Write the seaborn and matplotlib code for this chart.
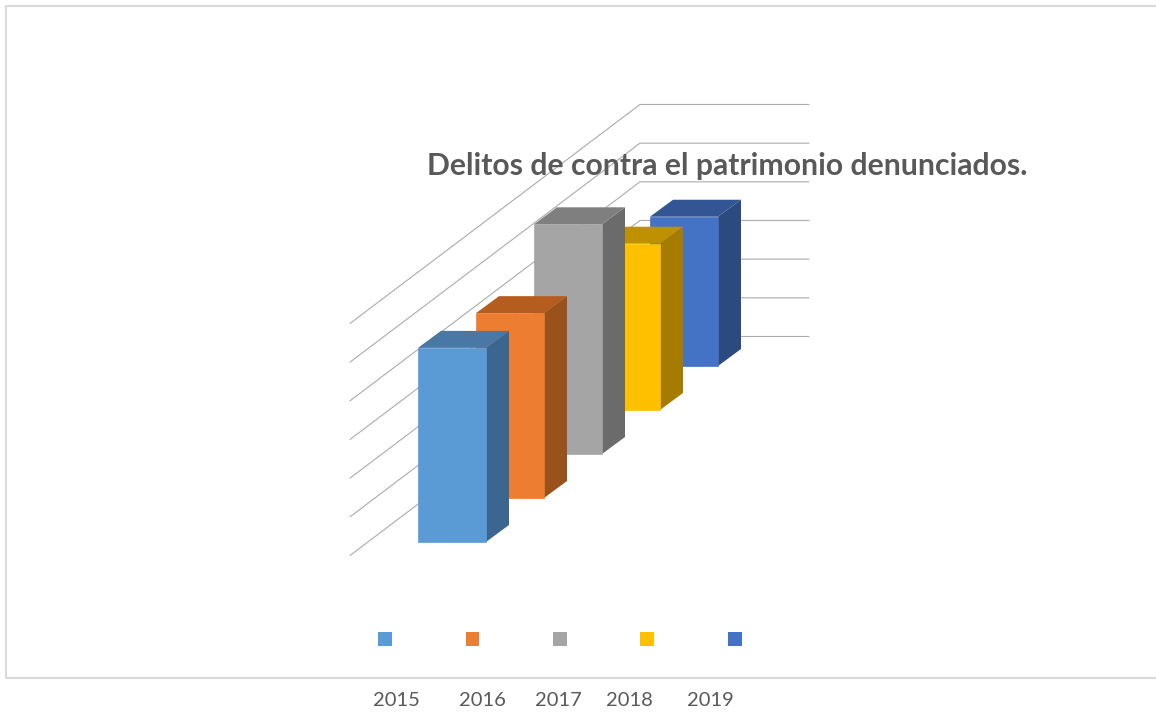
import numpy as np
import pandas as pd
import seaborn as sns
import matplotlib.pyplot as plt

# datos
anios = ['2015', '2016', '2017', '2018', '2019']
valores = [25100, 23900, 29700, 21500, 19300]
niveles = [0, 5000, 10000, 15000, 20000, 25000, 30000]
titulo = 'Delitos de contra el patrimonio denunciados.'

col_frente = ['#5B9BD5', '#ED7D31', '#A5A5A5', '#FFC000', '#4472C4']
col_lado = ['#3A6690', '#9A521D', '#6B6B6B', '#A67C00', '#2A4A80']
col_tapa = ['#4A78A6', '#B55D1F', '#7F7F7F', '#BF9000', '#335593']

# posicion de etiquetas y leyenda en pixeles
x_leyenda = [385, 472.5, 560, 647, 735]
x_etiquetas = [396.5, 482.6, 558, 629, 710]

# escala: pixeles de la imagen en x, valores en y
escala = 38.67 / 5000
base_px = 542
x0 = 418
ancho = 68
paso_x = 58
paso_y = 44
prof_x = 23
prof_y = 17


def py(p):
    return (base_px - p) / escala


sns.set_theme(style='white')
plt.rcParams['font.family'] = ['Lato', 'DejaVu Sans']

fig, ax = plt.subplots(figsize=(11.56, 7.13), dpi=100)
ax.set_position([0, 0, 1, 1])

# marco del grafico, sin lado derecho
ax.plot([1156, 6, 6, 1156], [py(6), py(6), py(678), py(678)], color='#D9D9D9', lw=1.5, zorder=1)

# lineas de la cuadricula
for n in niveles:
    y0 = n + py(555.5)
    y1 = n + py(336.5)
    ax.plot([350, 640, 809], [y0, y1, y1], color='#ABABAB', lw=0.8, zorder=1)

# barras de atras hacia adelante
df = pd.DataFrame({'anio': anios, 'valor': valores})
for i in range(len(anios) - 1, -1, -1):
    fila = df.iloc[[i]].copy()
    izq = x0 + paso_x * i
    fila['x'] = izq + ancho / 2
    abajo = paso_y * i / escala
    arriba = abajo + valores[i]
    dx = prof_x
    dy = prof_y / escala
    z = 10 + (len(anios) - i) * 2
    sns.barplot(data=fila, x='x', y='valor', native_scale=True, width=ancho,
                bottom=abajo, color=col_frente[i], saturation=1, ax=ax,
                edgecolor=col_frente[i], linewidth=0.5, zorder=z + 1)
    der = izq + ancho
    ax.fill([der, der + dx, der + dx, der], [abajo, abajo + dy, arriba + dy, arriba],
            color=col_lado[i], lw=0, zorder=z)
    ax.fill([izq, izq + dx, der + dx, der], [arriba, arriba + dy, arriba + dy, arriba],
            color=col_tapa[i], lw=0, zorder=z)

# leyenda sin texto
ax.scatter(x_leyenda, [py(639)] * 5, marker='s', s=100, c=col_frente, linewidths=0, zorder=5)

for x, a in zip(x_etiquetas, anios):
    ax.text(x, py(700), a, ha='center', va='center', fontsize=14.5, color='#595959')

ax.text(727.5, py(166), titulo, ha='center', va='center', fontsize=21.7,
        fontweight='bold', color='#595959', zorder=50)

ax.set_xlim(0, 1156)
ax.set_ylim(py(713), py(0))
ax.set_xlabel('')
ax.set_ylabel('')
ax.set_xticks([])
ax.set_yticks([])
sns.despine(ax=ax, left=True, bottom=True)

fig.savefig('out.png', dpi=100)
